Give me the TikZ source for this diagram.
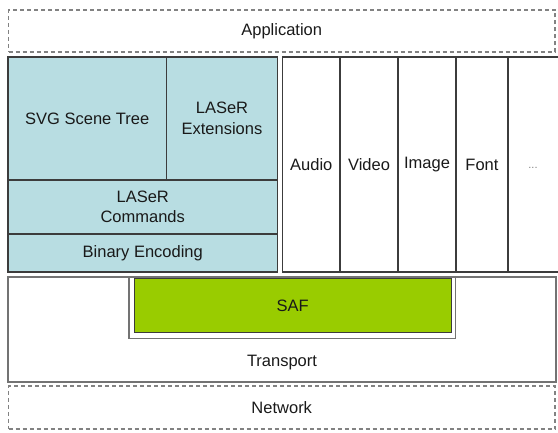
\documentclass[tikz,border=0pt]{standalone}
\usepackage{fontspec}
\setmainfont{Liberation Sans}
\definecolor{tealfill}{RGB}{184,221,226}
\definecolor{saffill}{RGB}{153,204,0}
\definecolor{edge}{RGB}{60,60,60}
\definecolor{softedge}{RGB}{115,115,115}
\definecolor{dashgray}{RGB}{130,130,130}
\definecolor{ink}{RGB}{25,25,25}
\begin{document}
\begin{tikzpicture}[x=1pt,y=-1pt,
  every node/.style={inner sep=0pt,outer sep=0pt,text=ink,
    font=\fontsize{16.5}{20.5}\selectfont,align=center},
  tealbox/.style={rectangle,draw=edge,line width=1.2pt,fill=tealfill},
  mediabox/.style={rectangle,draw=edge,line width=1.2pt,fill=white,
    minimum height=215pt},
  layerbox/.style={rectangle,draw=softedge,line width=1.4pt,fill=white},
  dashbox/.style={rectangle,draw=dashgray,line width=1.1pt,
    dash pattern=on 4pt off 3pt},
  safbox/.style={rectangle,draw=edge,line width=1pt,fill=saffill}]
\useasboundingbox (0,0) rectangle (558,433);

% application and network layers (dashed)
\node[dashbox,minimum width=546.5pt,minimum height=42pt] (app) at (281.75,31) {Application};
\node[dashbox,minimum width=546.5pt,minimum height=43pt] (net) at (281.75,407.5) {Network};

% LASeR stack
\node[tealbox,minimum width=158.5pt,minimum height=123pt] (svg) at (87.25,118.5) {SVG Scene Tree};
\node[tealbox,minimum width=111pt,minimum height=123pt] (ext) at (222,118.5) {LASeR\\Extensions};
\node[tealbox,minimum width=269.5pt,minimum height=54pt] (cmd) at (142.75,207) {LASeR\\Commands};
\node[tealbox,minimum width=269.5pt,minimum height=38pt] (bin) at (142.75,253) {Binary Encoding};

% media columns (the last one runs past the right edge)
\node[mediabox,minimum width=57.5pt] (audio) at (311.25,164.5) {Audio};
\node[mediabox,minimum width=58pt] (video) at (369,164.5) {Video};
\node[mediabox,minimum width=58pt] (image) at (427,164.5) {Image};
\node[mediabox,minimum width=52pt] (font) at (482,164.5) {Font};
\node[mediabox,minimum width=56pt] (more) at (536,164.5) {};
\node at (533,168) {\fontsize{11}{12}\selectfont\color{dashgray}...};

% transport layer with SAF inside
\node[layerbox,minimum width=548pt,minimum height=105pt] (transport) at (282,329.5) {};
\node at ([yshift=19pt]transport.south) {Transport};
\node[layerbox,line width=1.2pt,minimum width=326.5pt,minimum height=61.5pt] (safframe) at (292.25,307.75) {};
\node[safbox,minimum width=316.5pt,minimum height=54pt] (saf) at (292.75,305.5) {SAF};
\end{tikzpicture}
\end{document}
